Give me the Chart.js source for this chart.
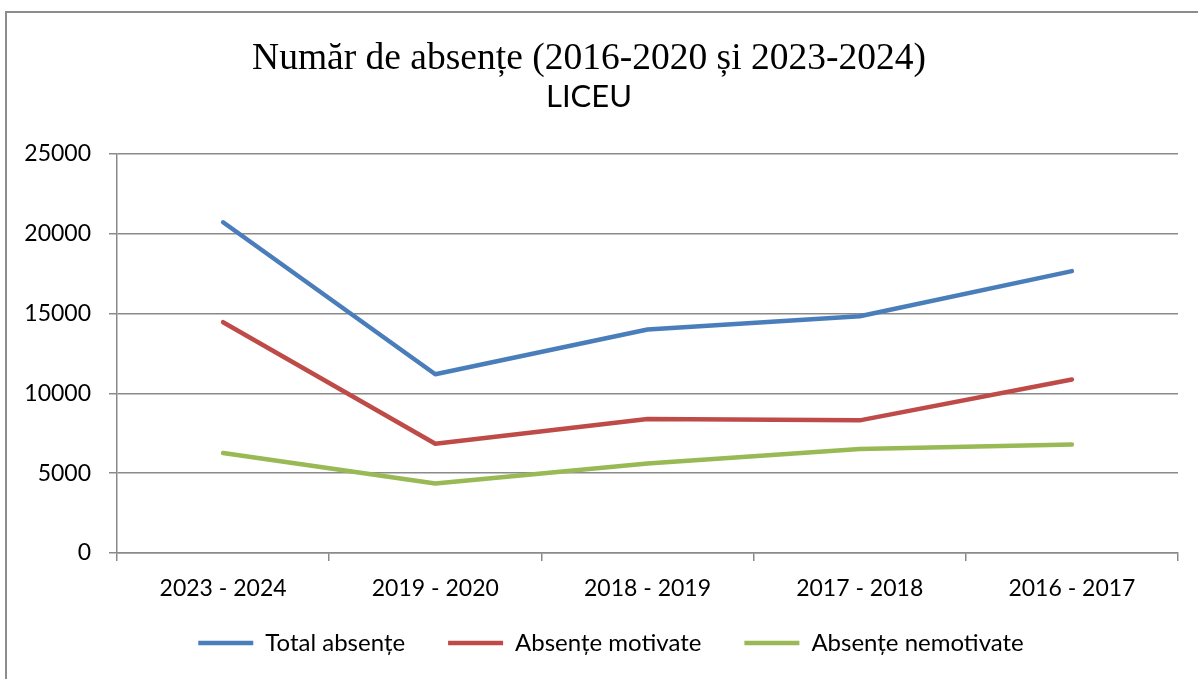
<!DOCTYPE html>
<html>
<head>
<meta charset="utf-8">
<script src="https://cdn.jsdelivr.net/npm/chart.js@4/dist/chart.umd.min.js"></script>
<style>
  html, body { margin: 0; padding: 0; background: #fff; }
  #wrap { position: relative; width: 1198px; height: 679px; }
</style>
</head>
<body>
<div id="wrap"><canvas id="c" width="1198" height="679"></canvas></div>
<script>
const categories = ['2023 - 2024', '2019 - 2020', '2018 - 2019', '2017 - 2018', '2016 - 2017'];
const totalAbsente = [20720, 11200, 14000, 14830, 17660];
const absenteMotivate = [14460, 6840, 8400, 8310, 10870];
const absenteNemotivate = [6260, 4360, 5600, 6520, 6790];
const yTicks = [0, 5000, 10000, 15000, 20000, 25000];
const seriesNames = ['Total absențe', 'Absențe motivate', 'Absențe nemotivate'];
const titleText = 'Număr de absențe (2016-2020 și 2023-2024)';
const subtitleText = 'LICEU';

const gridColor = '#8a8a8a';
const tickFont = { family: 'Lato', size: 23 };
const legendFont = { family: 'Lato', size: 24 };
const legendPad = 43;

const framePlugin = {
  id: 'frame',
  afterLayout(chart) {
    // place the legend row as in the reference (centre line at y≈643, block nudged right)
    const lg = chart.legend;
    if (lg) {
      const h = lg.bottom - lg.top;
      lg.left += 22; lg.right += 22;
      lg.top = 643 - legendPad - legendFont.size / 2;
      lg.bottom = lg.top + h;
    }
  },
  beforeDraw(chart) {
    const ctx = chart.ctx;
    ctx.save();
    ctx.strokeStyle = '#8c8c8c';
    ctx.lineWidth = 2;
    ctx.beginPath();
    ctx.moveTo(6, 679);
    ctx.lineTo(6, 12);
    ctx.lineTo(1198, 12);
    ctx.stroke();
    ctx.restore();
  }
};

function mkDs(label, data, color) {
  return {
    label, data,
    borderColor: color, backgroundColor: color,
    borderWidth: 4.5, pointRadius: 0, pointHoverRadius: 0,
    tension: 0, borderCapStyle: 'round', borderJoinStyle: 'round',
    fill: false
  };
}

new Chart(document.getElementById('c'), {
  type: 'line',
  data: {
    labels: categories,
    datasets: [
      mkDs(seriesNames[0], totalAbsente, '#4A7EBB'),
      mkDs(seriesNames[1], absenteMotivate, '#BE4B48'),
      mkDs(seriesNames[2], absenteNemotivate, '#98B954')
    ]
  },
  options: {
    responsive: false,
    animation: false,
    devicePixelRatio: 1,
    layout: { padding: { left: 0, right: 20, top: 0, bottom: 0 } },
    plugins: {
      title: {
        display: true, text: titleText, color: '#000',
        font: { family: 'Liberation Serif', size: 37.5, weight: 'normal', lineHeight: 1.1 },
        padding: { top: 39, bottom: 0 }
      },
      subtitle: {
        display: true, text: subtitleText, color: '#000',
        font: { family: 'Lato', size: 31, weight: 'normal', lineHeight: 1.1 },
        padding: { top: 0, bottom: 39.6 }
      },
      legend: {
        position: 'bottom',
        labels: {
          color: '#000', font: legendFont,
          usePointStyle: true, pointStyle: 'line', pointStyleWidth: 55,
          padding: legendPad
        }
      },
      tooltip: { enabled: false }
    },
    scales: {
      x: {
        offset: true,
        grid: { offset: true, drawOnChartArea: false, drawTicks: true, tickLength: 8, color: gridColor, lineWidth: 1.5 },
        border: { display: true, color: gridColor, width: 1.5 },
        ticks: { color: '#000', font: tickFont, padding: 14, maxRotation: 0 },
        afterFit(s) { s.height = 49; }
      },
      y: {
        min: 0, max: 25000,
        afterBuildTicks(s) { s.ticks = yTicks.map(v => ({ value: v })); },
        grid: { color: gridColor, lineWidth: 1.5, tickLength: 8 },
        border: { display: true, color: gridColor, width: 1.5 },
        ticks: { color: '#000', font: tickFont, padding: 18, callback: v => String(v) },
        afterFit(s) { s.width = 117; }
      }
    }
  },
  plugins: [framePlugin]
});
</script>
</body>
</html>
